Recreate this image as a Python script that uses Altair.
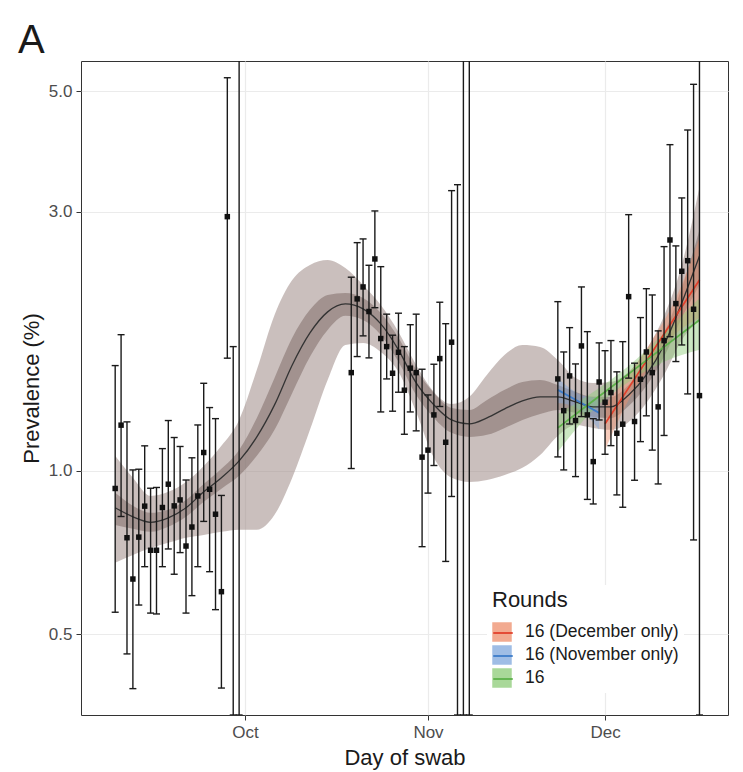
import altair as alt
import pandas as pd

# ---------------- observed daily prevalence (%) with 95% CI ----------------
r14_first_day = "2021-09-09"
r14_val = [0.928, 1.214, 0.753, 0.632, 0.755, 0.861, 0.714, 0.714, 0.856, 0.945, 0.862,
           0.884, 0.727, 0.788, 0.899, 1.081, 0.925, 0.832, 0.599, 2.940, None, None]
r14_lo = [0.549, 0.824, 0.460, 0.397, 0.566, 0.666, 0.547, 0.545, 0.666, 0.718, 0.645,
          0.707, 0.547, 0.589, 0.666, 0.807, 0.652, 0.555, 0.398, 1.613, 0.355, 0.355]
r14_hi = [1.563, 1.782, 1.231, 1.004, 1.007, 1.112, 0.929, 0.932, 1.099, 1.238, 1.152,
          1.109, 0.962, 1.057, 1.215, 1.450, 1.308, 1.248, 0.901, 5.300, 1.694, 20.0]

r15_first_day = "2021-10-19"
r15_val = [1.517, 2.074, 2.182, 1.966, 2.457, 1.753, 1.694, 1.513, 1.654, 1.408, 1.546,
           1.517, 1.060, 1.092, 1.268, 1.610, 1.129, 1.726, None, None, None]
r15_lo = [1.010, 1.624, 1.773, 1.615, 1.998, 1.284, 1.477, 1.288, 1.396, 1.168, 1.284,
          1.185, 0.725, 0.910, 1.023, 1.314, 0.681, 0.897, 0.355, 0.355, 0.355]
r15_hi = [2.274, 2.633, 2.675, 2.392, 3.012, 2.378, 1.944, 1.778, 1.952, 1.694, 1.859,
          1.944, 1.539, 1.380, 1.572, 2.045, 1.867, 3.283, 3.367, 20.0, 20.0]

r16_first_day = "2021-11-23"
r16_val = [1.477, 1.291, 1.496, 1.238, 1.699, 1.268, 1.040, 1.458, 1.338, 1.394, 1.173,
           1.219, 2.094, 1.233, 1.475, 1.656, 1.517, 1.312, 1.738, 2.663, 2.033, 2.332,
           2.439, 1.985, 1.376]
r16_lo = [1.061, 1.004, 1.220, 0.976, 1.259, 0.886, 0.869, 1.241, 1.073, 1.113, 0.903,
          0.857, 1.482, 0.961, 1.132, 1.263, 1.092, 0.946, 1.162, 1.767, 1.590, 1.706,
          1.386, 0.746, 0.355]
r16_hi = [2.050, 1.656, 1.836, 1.574, 2.182, 1.805, 1.248, 1.721, 1.665, 1.738, 1.522,
          1.730, 2.965, 1.579, 1.916, 2.166, 2.109, 1.811, 2.589, 3.990, 2.597, 3.183,
          4.246, 5.154, 20.0]

# ---------------- smooth fit over all rounds (every 3 days) ----------------
fit_first_day = "2021-09-09"
fit_step_days = 3
fit_mid = [0.855, 0.823, 0.804, 0.819, 0.855, 0.915, 0.971, 1.043, 1.155, 1.323, 1.567,
           1.795, 1.963, 2.030, 1.988, 1.865, 1.671, 1.452, 1.323, 1.241, 1.221, 1.252,
           1.301, 1.346, 1.369, 1.369, 1.340, 1.312, 1.312, 1.380, 1.503, 1.706, 2.039, 2.488]
fit_hi95 = [1.066, 0.971, 0.899, 0.915, 0.954, 1.021, 1.112, 1.241, 1.535, 1.938, 2.247,
            2.395, 2.447, 2.365, 2.200, 2.021, 1.803, 1.567, 1.398, 1.328, 1.369, 1.503,
            1.636, 1.706, 1.692, 1.601, 1.483, 1.452, 1.458, 1.522, 1.671, 1.930, 2.395, 3.334]
fit_lo95 = [0.677, 0.700, 0.721, 0.737, 0.753, 0.762, 0.772, 0.779, 0.779, 0.830, 0.971,
            1.190, 1.471, 1.706, 1.721, 1.656, 1.522, 1.284, 1.057, 0.971, 0.954, 0.962,
            0.983, 1.013, 1.070, 1.160, 1.215, 1.200, 1.190, 1.231, 1.334, 1.503, 1.743, 1.897]
fit_hi50 = [0.911, 0.862, 0.837, 0.848, 0.884, 0.946, 1.009, 1.093, 1.252, 1.483, 1.758,
            1.980, 2.109, 2.127, 2.083, 1.954, 1.758, 1.535, 1.392, 1.306, 1.295, 1.351,
            1.410, 1.458, 1.471, 1.440, 1.398, 1.369, 1.369, 1.440, 1.574, 1.795, 2.173, 2.779]
fit_lo50 = [0.795, 0.782, 0.772, 0.789, 0.823, 0.877, 0.927, 0.979, 1.066, 1.190, 1.392,
            1.622, 1.818, 1.930, 1.897, 1.780, 1.588, 1.380, 1.252, 1.175, 1.155, 1.165,
            1.200, 1.241, 1.273, 1.295, 1.279, 1.257, 1.252, 1.317, 1.434, 1.622, 1.912, 2.200]

# ---------------- exponential fits for round 16 ----------------
round_names = ["16 (December only)", "16 (November only)", "16"]
band_colors = ["#EE8E6B", "#7FA7DC", "#8CCB77"]
line_colors = ["#E2412C", "#3D7CC9", "#5DB24A"]

dec_days = ["2021-12-01", "2021-12-05", "2021-12-09", "2021-12-13", "2021-12-17"]
dec_fit = [1.221, 1.422, 1.656, 1.930, 2.247]
dec_lo = [1.093, 1.351, 1.574, 1.788, 1.912]
dec_hi = [1.323, 1.509, 1.743, 2.083, 2.686]

nov_days = ["2021-11-23", "2021-11-25", "2021-11-27", "2021-11-30"]
nov_fit = [1.410, 1.371, 1.334, 1.279]
nov_lo = [1.334, 1.323, 1.290, 1.190]
nov_hi = [1.483, 1.422, 1.380, 1.363]

all_days = ["2021-11-23", "2021-11-29", "2021-12-05", "2021-12-11", "2021-12-17"]
all_fit = [1.200, 1.346, 1.509, 1.692, 1.897]
all_lo = [1.084, 1.295, 1.458, 1.588, 1.671]
all_hi = [1.273, 1.398, 1.561, 1.795, 2.083]


def day_list(first, n, step=1):
    return pd.date_range(first, periods=n, freq=f"{step}D").strftime("%Y-%m-%d").tolist()


obs = pd.DataFrame({
    "date": day_list(r14_first_day, len(r14_val)) + day_list(r15_first_day, len(r15_val))
    + day_list(r16_first_day, len(r16_val)),
    "value": r14_val + r15_val + r16_val,
    "lo": r14_lo + r15_lo + r16_lo,
    "hi": r14_hi + r15_hi + r16_hi,
})

fit = pd.DataFrame({
    "date": day_list(fit_first_day, len(fit_mid), fit_step_days),
    "mid": fit_mid, "lo95": fit_lo95, "hi95": fit_hi95, "lo50": fit_lo50, "hi50": fit_hi50,
})

rows = []
for name, d, f, lo, hi in [
    (round_names[0], dec_days, dec_fit, dec_lo, dec_hi),
    (round_names[1], nov_days, nov_fit, nov_lo, nov_hi),
    (round_names[2], all_days, all_fit, all_lo, all_hi),
]:
    for i in range(len(d)):
        rows.append({"round": name, "round_line": name, "date": d[i],
                     "fit": f[i], "lo": lo[i], "hi": hi[i]})
rfit = pd.DataFrame(rows)

# ---------------- scales / axes ----------------
x_dom = [alt.DateTime(year=2021, month=9, date=3, hours=5, utc=True),
         alt.DateTime(year=2021, month=12, date=21, hours=20, utc=True)]
x_ticks = [alt.DateTime(year=2021, month=10, date=1, utc=True),
           alt.DateTime(year=2021, month=11, date=1, utc=True),
           alt.DateTime(year=2021, month=12, date=1, utc=True)]
x_scale = alt.Scale(type="utc", domain=x_dom, nice=False)
x_axis = alt.Axis(values=x_ticks, format="%b", title="Day of swab", grid=True,
                  gridColor="#EBEBEB", gridWidth=1.2, domain=False, tickColor="#333333",
                  tickSize=5, labelFontSize=17, labelColor="#4D4D4D", labelPadding=4,
                  titleFontSize=22, titleFontWeight="normal", titleColor="#1A1A1A",
                  titlePadding=7)
y_scale = alt.Scale(type="log", domain=[0.355, 5.69], nice=False, zero=False)
y_axis = alt.Axis(values=[0.5, 1, 3, 5], format=".1f", title="Prevalence (%)", grid=True,
                  gridColor="#EBEBEB", gridWidth=1.2, domain=False, tickColor="#333333",
                  tickSize=5, labelFontSize=17, labelColor="#4D4D4D", labelPadding=4,
                  titleFontSize=22, titleFontWeight="normal", titleColor="#1A1A1A",
                  titlePadding=5)


def X():
    return alt.X("date:T", scale=x_scale, axis=x_axis)


def Y(field):
    return alt.Y(f"{field}:Q", scale=y_scale, axis=y_axis)


legend_common = dict(orient="none", legendX=406, legendY=524,
                     symbolSize=380, labelFontSize=17.5, titleFontSize=22,
                     titleFontWeight="normal", titlePadding=10, rowPadding=3,
                     labelOffset=13, padding=5)

band95 = alt.Chart(fit).mark_area(color="#9E8B87", opacity=0.55, clip=True,
                                  interpolate="monotone").encode(
    x=X(), y=Y("lo95"), y2="hi95:Q")
band50 = alt.Chart(fit).mark_area(color="#7A6562", opacity=0.5, clip=True,
                                  interpolate="monotone").encode(
    x=X(), y=Y("lo50"), y2="hi50:Q")
rbands = alt.Chart(rfit).mark_area(opacity=0.45, clip=True, interpolate="monotone").encode(
    x=X(), y=Y("lo"), y2="hi:Q",
    fill=alt.Fill("round:N", scale=alt.Scale(domain=round_names, range=band_colors),
                  legend=alt.Legend(title="Rounds", symbolType="square", symbolOpacity=0.75,
                                    symbolStrokeWidth=0, fillColor="white",
                                    labelColor="#1A1A1A", titleColor="#1A1A1A",
                                    **legend_common)))
mline = alt.Chart(fit).mark_line(color="#333333", strokeWidth=1.3, clip=True,
                                 interpolate="monotone").encode(x=X(), y=Y("mid"))
rlines = alt.Chart(rfit).mark_line(strokeWidth=1.8, clip=True).encode(
    x=X(), y=Y("fit"),
    stroke=alt.Stroke("round_line:N", sort=round_names, scale=alt.Scale(range=line_colors),
                      legend=alt.Legend(title=" ", symbolType="stroke", symbolStrokeWidth=1.8,
                                        labelExpr="''", titleColor="transparent",
                                        **legend_common)))
bars = alt.Chart(obs).mark_rule(color="#1A1A1A", strokeWidth=1.4, clip=True).encode(
    x=X(), y=Y("lo"), y2="hi:Q")
cap_hi = alt.Chart(obs).mark_tick(orient="horizontal", size=7, thickness=1.4,
                                  color="#1A1A1A", opacity=1, clip=True).encode(
    x=X(), y=Y("hi"))
cap_lo = alt.Chart(obs).mark_tick(orient="horizontal", size=7, thickness=1.4,
                                  color="#1A1A1A", opacity=1, clip=True).encode(
    x=X(), y=Y("lo"))
pts = alt.Chart(obs).mark_square(size=30, color="#111111", opacity=1, clip=True).encode(
    x=X(), y=Y("value"))
panel_label = alt.Chart(pd.DataFrame({"label": ["A"]})).mark_text(
    align="left", baseline="alphabetic", fontSize=40, color="#1A1A1A").encode(
    text="label:N", x=alt.value(-63), y=alt.value(-8))

chart = alt.layer(band95, band50, rbands, mline, rlines, bars, cap_hi, cap_lo, pts,
                  panel_label).properties(
    width=647, height=654,
    padding={"left": 73, "top": 53, "right": 7, "bottom": 62},
    autosize=alt.AutoSizeParams(type="none"),
    background="white",
).configure(font="Liberation Sans").configure_view(stroke="#333333", strokeWidth=1)

chart.save("out.html", embed_options={"renderer": "svg", "actions": False})
